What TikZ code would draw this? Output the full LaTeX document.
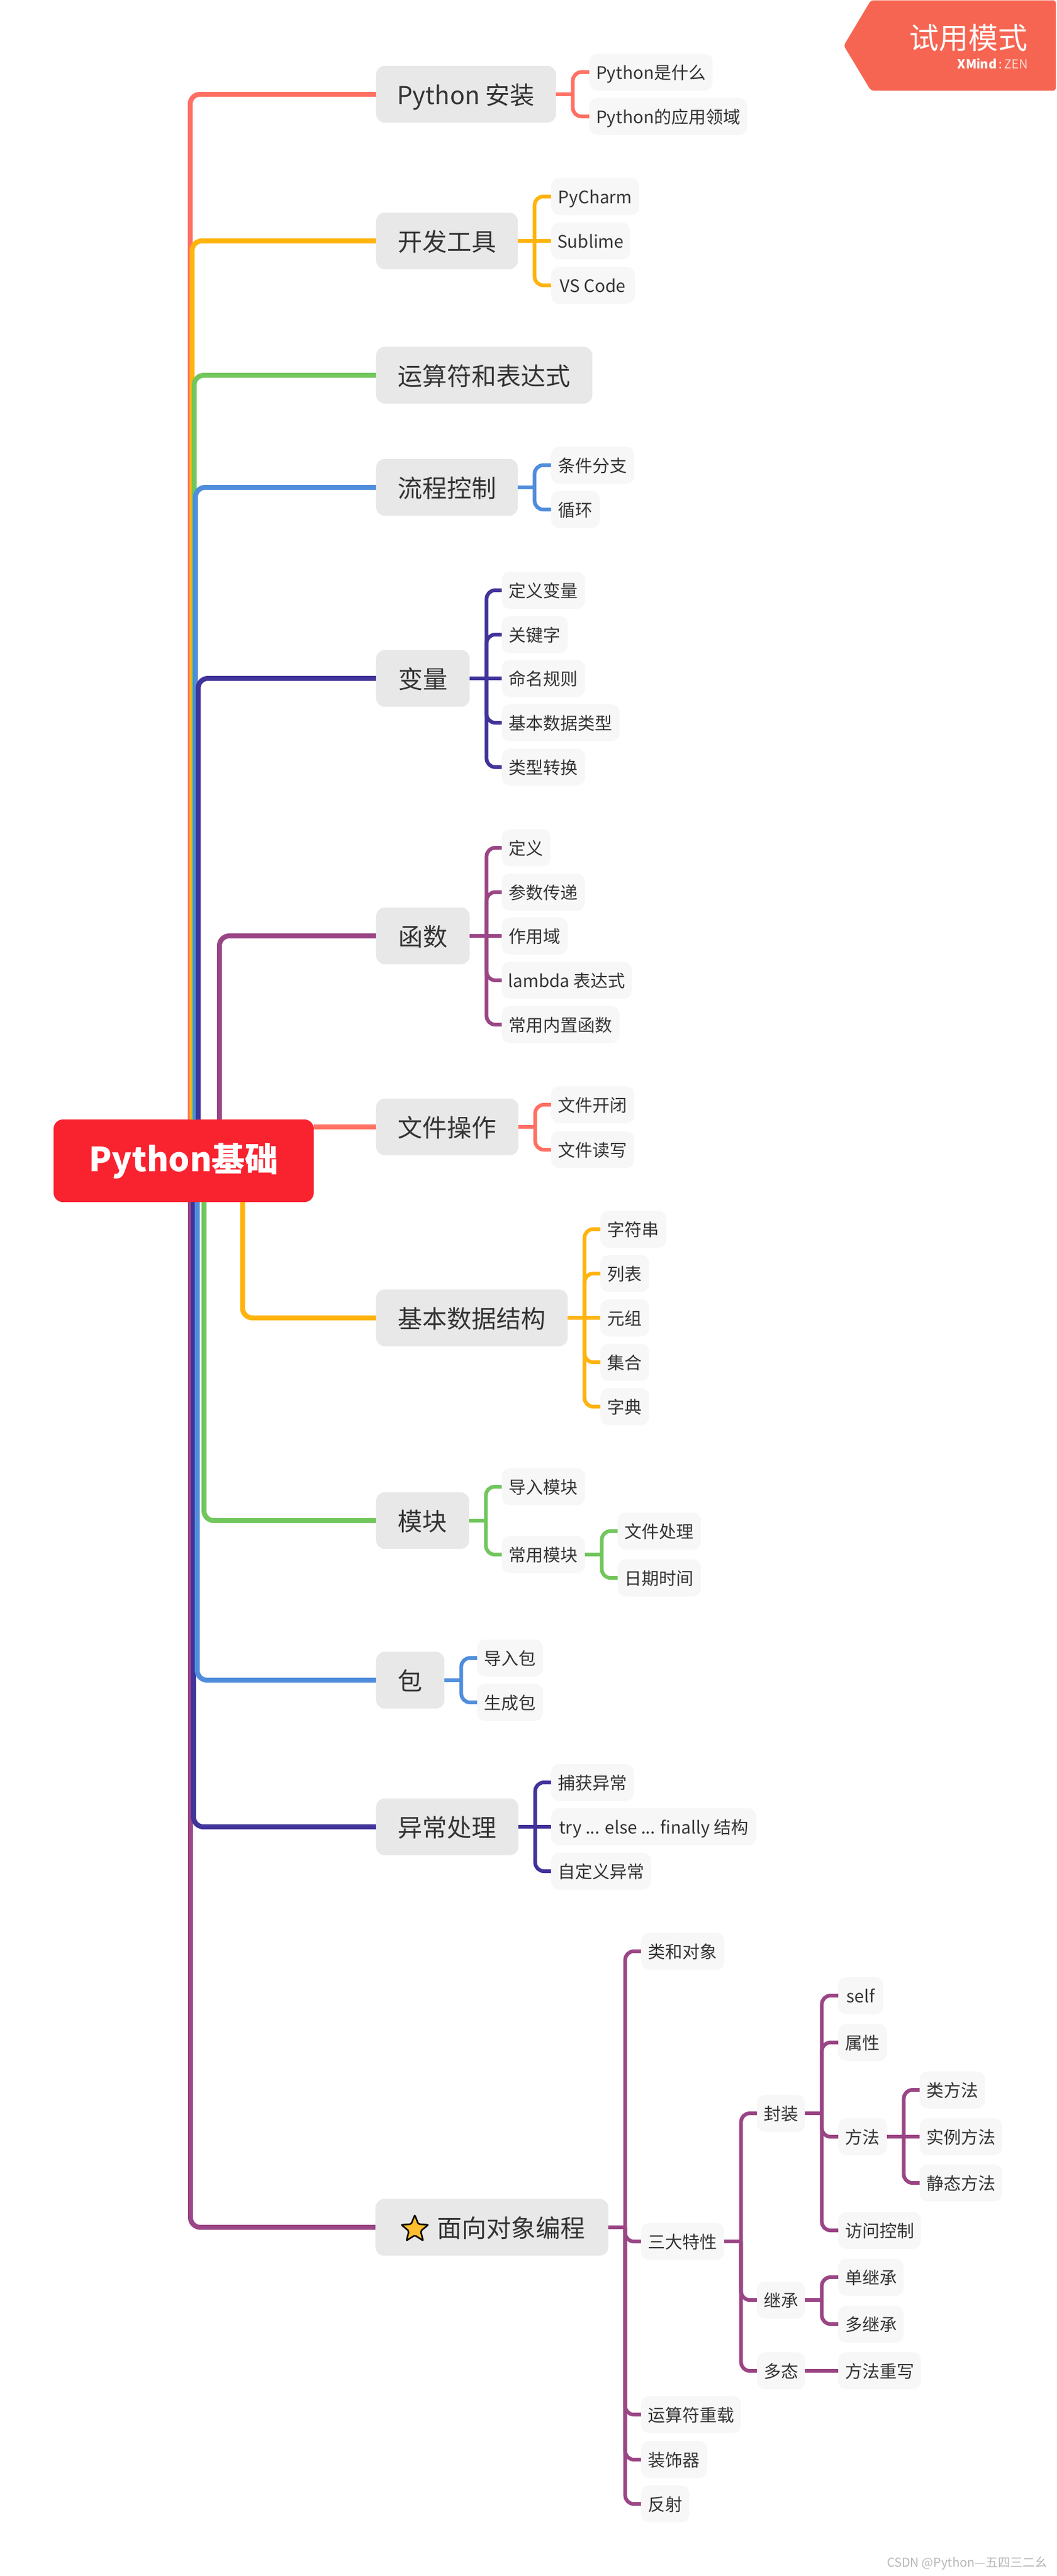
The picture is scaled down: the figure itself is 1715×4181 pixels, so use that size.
\documentclass[tikz,border=0pt]{standalone}
\usepackage{fontspec}
\setmainfont{Noto Sans CJK SC}
\usetikzlibrary{shapes.geometric}
\definecolor{cred}{HTML}{FF7063}
\definecolor{corange}{HTML}{FFB30D}
\definecolor{cgreen}{HTML}{71C65C}
\definecolor{cblue}{HTML}{4F8DDC}
\definecolor{cdark}{HTML}{40339A}
\definecolor{cpurple}{HTML}{9A4585}
\definecolor{croot}{HTML}{F9222F}
\definecolor{cbadge}{HTML}{F66552}
\definecolor{cmainbg}{HTML}{E8E8E8}
\definecolor{ckidbg}{HTML}{F7F7F7}
\definecolor{ctext}{HTML}{333333}
\definecolor{cstar}{HTML}{FFBF2E}
\tikzset{
  x=1pt,y=-1pt,
  mainbox/.style={anchor=west,fill=cmainbg,rounded corners=14pt,minimum height=92pt,inner sep=0pt,text=ctext,font=\fontsize{40pt}{44pt}\selectfont,text height=36.5pt,text depth=3.5pt},
  kidbox/.style={anchor=west,fill=ckidbg,rounded corners=13pt,minimum height=60pt,inner sep=0pt,text=ctext,font=\fontsize{28pt}{32pt}\selectfont,text height=25.2pt,text depth=2.8pt},
  rootbox/.style={fill=croot,rounded corners=15pt,inner sep=0pt,text=white,font=\fontsize{54pt}{60pt}\selectfont\bfseries},
  trunk/.style={line width=8pt,rounded corners=16pt},
  kidline/.style={line width=6pt},
}
\newcommand{\kid}[3]{%
  \draw[kidline,#1] (#2.east) -- ++(27,0);
  \draw[kidline,#1,rounded corners=14pt] (#2.east) ++(27,0) |- (#3.west);}
\newcommand{\kidmid}[3]{\draw[kidline,#1] (#2.east) -- (#3.west);}
\begin{document}
\begin{tikzpicture}
\useasboundingbox (0,0) rectangle (1715,4181);
\fill[white] (0,0) rectangle (1715,4181);

% root
\node[rootbox,minimum width=422pt,minimum height=134pt] (root) at (298,1884) {Python基础};

% main topics
\node[mainbox,minimum width=292pt] (install) at (610,153) {Python 安装};
\node[mainbox,minimum width=230pt] (tools) at (610,391) {开发工具};
\node[mainbox,minimum width=351pt] (ops) at (610,609) {运算符和表达式};
\node[mainbox,minimum width=230pt] (flow) at (610,791) {流程控制};
\node[mainbox,minimum width=152pt] (vars) at (610,1101) {变量};
\node[mainbox,minimum width=152pt] (funcs) at (610,1519) {函数};
\node[mainbox,minimum width=231pt] (files) at (610,1829) {文件操作};
\node[mainbox,minimum width=311pt] (data) at (610,2139) {基本数据结构};
\node[mainbox,minimum width=151pt] (mods) at (610,2468) {模块};
\node[mainbox,minimum width=111pt] (pkg) at (610,2727) {包};
\node[mainbox,minimum width=231pt] (exc) at (610,2965) {异常处理};
\node[mainbox,minimum width=378pt] (oop) at (609,3615) {\hspace*{63pt}面向对象编程};
\node[star,star points=5,star point ratio=2.3,minimum size=46pt,inner sep=0pt,fill=cstar,draw=black,line width=2.5pt,rounded corners=2pt] (staricon) at (673,3618) {};

% install
\node[kidbox,minimum width=200pt] (k11) at (956,117) {Python是什么};
\node[kidbox,minimum width=256pt] (k12) at (956,189) {Python的应用领域};
% tools
\node[kidbox,minimum width=143pt] (k21) at (894,319) {PyCharm};
\node[kidbox,minimum width=128pt] (k22) at (894,391) {Sublime};
\node[kidbox,minimum width=136pt] (k23) at (894,463) {VS Code};
% flow
\node[kidbox,minimum width=135pt] (k31) at (894,755) {条件分支};
\node[kidbox,minimum width=79pt] (k32) at (894,827) {循环};
% vars
\node[kidbox,minimum width=135pt] (k41) at (814,958) {定义变量};
\node[kidbox,minimum width=107pt] (k42) at (814,1030) {关键字};
\node[kidbox,minimum width=135pt] (k43) at (814,1101) {命名规则};
\node[kidbox,minimum width=191pt] (k44) at (814,1173) {基本数据类型};
\node[kidbox,minimum width=135pt] (k45) at (814,1245) {类型转换};
% funcs
\node[kidbox,minimum width=79pt] (k51) at (814,1376) {定义};
\node[kidbox,minimum width=135pt] (k52) at (814,1448) {参数传递};
\node[kidbox,minimum width=107pt] (k53) at (814,1519) {作用域};
\node[kidbox,minimum width=211pt] (k54) at (814,1591) {lambda 表达式};
\node[kidbox,minimum width=191pt] (k55) at (814,1663) {常用内置函数};
% files
\node[kidbox,minimum width=135pt] (k61) at (894,1793) {文件开闭};
\node[kidbox,minimum width=135pt] (k62) at (894,1866) {文件读写};
% data
\node[kidbox,minimum width=107pt] (k71) at (974,1995) {字符串};
\node[kidbox,minimum width=79pt] (k72) at (974,2067) {列表};
\node[kidbox,minimum width=79pt] (k73) at (974,2139) {元组};
\node[kidbox,minimum width=79pt] (k74) at (974,2211) {集合};
\node[kidbox,minimum width=79pt] (k75) at (974,2283) {字典};
% mods
\node[kidbox,minimum width=135pt] (k81) at (814,2413) {导入模块};
\node[kidbox,minimum width=135pt] (k82) at (814,2523) {常用模块};
\node[kidbox,minimum width=135pt] (k83) at (1002,2485) {文件处理};
\node[kidbox,minimum width=135pt] (k84) at (1002,2561) {日期时间};
% pkg
\node[kidbox,minimum width=107pt] (k91) at (774,2691) {导入包};
\node[kidbox,minimum width=107pt] (k92) at (774,2763) {生成包};
% exc
\node[kidbox,minimum width=134pt] (ka1) at (894,2893) {捕获异常};
\node[kidbox,minimum width=333pt] (ka2) at (894,2965) {try ... else ... finally 结构};
\node[kidbox,minimum width=162pt] (ka3) at (894,3037) {自定义异常};
% oop
\node[kidbox,minimum width=135pt] (o1) at (1040,3167) {类和对象};
\node[kidbox,minimum width=135pt] (o2) at (1040,3638) {三大特性};
\node[kidbox,minimum width=162pt] (o3) at (1040,3919) {运算符重载};
\node[kidbox,minimum width=107pt] (o4) at (1040,3992) {装饰器};
\node[kidbox,minimum width=78pt] (o5) at (1040,4064) {反射};
\node[kidbox,minimum width=78pt] (p1) at (1228,3430) {封装};
\node[kidbox,minimum width=78pt] (p2) at (1228,3733) {继承};
\node[kidbox,minimum width=78pt] (p3) at (1228,3848) {多态};
\node[kidbox,minimum width=73pt] (q1) at (1360,3239) {self};
\node[kidbox,minimum width=79pt] (q2) at (1360,3315) {属性};
\node[kidbox,minimum width=79pt] (q3) at (1360,3468) {方法};
\node[kidbox,minimum width=134pt] (q4) at (1360,3620) {访问控制};
\node[kidbox,minimum width=106pt] (q5) at (1360,3696) {单继承};
\node[kidbox,minimum width=106pt] (q6) at (1360,3772) {多继承};
\node[kidbox,minimum width=134pt] (q7) at (1360,3848) {方法重写};
\node[kidbox,minimum width=106pt] (r1) at (1492,3392) {类方法};
\node[kidbox,minimum width=134pt] (r2) at (1492,3468) {实例方法};
\node[kidbox,minimum width=134pt] (r3) at (1492,3543) {静态方法};

% trunks below the root
\coordinate (bp) at (309,1951);
\coordinate (bd) at (314,1951);
\coordinate (bb) at (320,1951);
\coordinate (bg) at (331,1951);
\coordinate (bo) at (393.5,1951);
\draw[trunk,cpurple] (bp) |- (oop.west);
\draw[trunk,cdark] (bd) |- (exc.west);
\draw[trunk,cblue] (bb) |- (pkg.west);
\draw[trunk,cgreen] (bg) |- (mods.west);
\draw[trunk,corange] (bo) |- (data.west);
% trunks above the root
\coordinate (tr) at (308.5,1817);
\coordinate (to) at (311.5,1817);
\coordinate (tg) at (315,1817);
\coordinate (tb) at (317,1817);
\coordinate (td) at (321.5,1817);
\coordinate (tp) at (356,1817);
\draw[trunk,cred] (tr) |- (install.west);
\draw[trunk,corange] (to) |- (tools.west);
\draw[trunk,cgreen] (tg) |- (ops.west);
\draw[trunk,cblue] (tb) |- (flow.west);
\draw[trunk,cdark] (td) |- (vars.west);
\draw[trunk,cpurple] (tp) |- (funcs.west);
\draw[line width=8pt,cred] (root.east |- files.west) -- (files.west);

% branches
\kid{cred}{install}{k11} \kid{cred}{install}{k12}
\kid{corange}{tools}{k21} \kidmid{corange}{tools}{k22} \kid{corange}{tools}{k23}
\kid{cblue}{flow}{k31} \kid{cblue}{flow}{k32}
\kid{cdark}{vars}{k41} \kid{cdark}{vars}{k42} \kidmid{cdark}{vars}{k43} \kid{cdark}{vars}{k44} \kid{cdark}{vars}{k45}
\kid{cpurple}{funcs}{k51} \kid{cpurple}{funcs}{k52} \kidmid{cpurple}{funcs}{k53} \kid{cpurple}{funcs}{k54} \kid{cpurple}{funcs}{k55}
\kid{cred}{files}{k61} \kid{cred}{files}{k62}
\kid{corange}{data}{k71} \kid{corange}{data}{k72} \kidmid{corange}{data}{k73} \kid{corange}{data}{k74} \kid{corange}{data}{k75}
\kid{cgreen}{mods}{k81} \kid{cgreen}{mods}{k82} \kid{cgreen}{k82}{k83} \kid{cgreen}{k82}{k84}
\kid{cblue}{pkg}{k91} \kid{cblue}{pkg}{k92}
\kid{cdark}{exc}{ka1} \kidmid{cdark}{exc}{ka2} \kid{cdark}{exc}{ka3}
\kid{cpurple}{oop}{o1} \kid{cpurple}{oop}{o2} \kid{cpurple}{oop}{o3} \kid{cpurple}{oop}{o4} \kid{cpurple}{oop}{o5}
\kid{cpurple}{o2}{p1} \kid{cpurple}{o2}{p2} \kid{cpurple}{o2}{p3}
\kid{cpurple}{p1}{q1} \kid{cpurple}{p1}{q2} \kid{cpurple}{p1}{q3} \kid{cpurple}{p1}{q4}
\kid{cpurple}{p2}{q5} \kid{cpurple}{p2}{q6}
\kidmid{cpurple}{p3}{q7}
\kid{cpurple}{q3}{r1} \kidmid{cpurple}{q3}{r2} \kid{cpurple}{q3}{r3}

% badge
\fill[cbadge,rounded corners=4pt] (1413,0.5) -- (1713,0.5) -- (1713,147) -- (1413,147) -- (1369,74) -- cycle;
\node[anchor=east,inner sep=0pt,text=white,font=\fontsize{48pt}{52pt}\selectfont] (badgetitle) at (1668,61) {试用模式};
\node[anchor=east,inner sep=0pt,text=white,font=\fontsize{20pt}{24pt}\selectfont] (badgesub) at (1668,103) {\textbf{XMind}\,:\,\textcolor{white!75!cbadge}{ZEN}};

% watermark
\node[anchor=east,inner sep=0pt,text=black!28,font=\fontsize{20pt}{24pt}\selectfont] (watermark) at (1700,4160) {CSDN @Python—五四三二幺};
\end{tikzpicture}
\end{document}
